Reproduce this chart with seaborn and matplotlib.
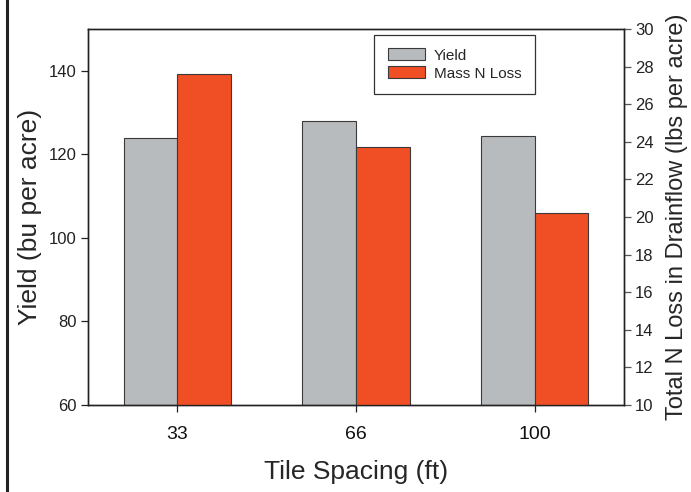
import numpy as np
import pandas as pd
import matplotlib
matplotlib.use("Agg")
import matplotlib.pyplot as plt
from matplotlib.lines import Line2D
import seaborn as sns

# values
spacing = ["33", "66", "100"]
yield_bu = [123.9, 128.0, 124.4]
n_loss = [27.6, 23.7, 20.2]
series = ["Yield", "Mass N Loss"]
colors = {"Yield": "#B8BBBD", "Mass N Loss": "#F04E25"}

sns.set_style("ticks")
plt.rcParams["font.family"] = ["Liberation Sans", "DejaVu Sans"]

# long tables, one per axis; the other series is NaN so dodge slots stay put
df_y = pd.DataFrame({
    "spacing": spacing * 2,
    "series": ["Yield"] * 3 + ["Mass N Loss"] * 3,
    "value": yield_bu + [np.nan] * 3,
})
df_n = pd.DataFrame({
    "spacing": spacing * 2,
    "series": ["Yield"] * 3 + ["Mass N Loss"] * 3,
    "value": [np.nan] * 3 + n_loss,
})

fig = plt.figure(figsize=(6.91, 4.92), dpi=100)
ax = fig.add_axes([0.1274, 0.1768, 0.7757, 0.7642])
ax2 = ax.twinx()

bar_kw = dict(x="spacing", y="value", hue="series", order=spacing,
              hue_order=series, palette=colors, width=0.6, dodge=True,
              saturation=1, edgecolor="#3a3a3a", linewidth=0.8,
              errorbar=None, legend=False)
sns.barplot(data=df_y, ax=ax, **bar_kw)
sns.barplot(data=df_n, ax=ax2, **bar_kw)

ax.set_xlim(-0.5, 2.5)
ax.set_ylim(60, 150)
ax.set_yticks([60, 80, 100, 120, 140])
ax2.set_ylim(10, 30)
ax2.set_yticks(np.arange(10, 31, 2))

ax.set_xlabel("Tile Spacing (ft)", fontsize=19, labelpad=12)
ax.set_ylabel("Yield (bu per acre)", fontsize=19, labelpad=5)
ax2.set_ylabel("Total N Loss in Drainflow (lbs per acre)", fontsize=17,
               labelpad=9)

ax.tick_params(axis="x", labelsize=14, length=5, width=0.9, pad=10,
               direction="out", color="#222222", labelcolor="#111111")
ax.tick_params(axis="y", labelsize=12, length=5, width=0.9, pad=3,
               direction="out", color="#222222", labelcolor="#222222")
ax2.tick_params(axis="y", labelsize=12, length=5, width=0.9, pad=3,
                direction="out", color="#555555", labelcolor="#222222")

for a in (ax, ax2):
    for sp in a.spines.values():
        sp.set_visible(True)
        sp.set_color("#222222")
        sp.set_linewidth(1.0)

handles = [plt.Rectangle((0, 0), 1, 1, facecolor=colors[s],
                         edgecolor="#3a3a3a", linewidth=0.8) for s in series]
leg = ax2.legend(handles, series, loc="upper left",
                 bbox_to_anchor=(0.534, 0.985), fontsize=11, frameon=True,
                 fancybox=False, edgecolor="#333333", framealpha=1,
                 handlelength=2.4, handleheight=0.8, borderpad=0.9,
                 labelspacing=0.25, handletextpad=0.6, borderaxespad=0)
leg.get_frame().set_linewidth(0.9)

# dark frame line down the left edge of the image
fig.add_artist(Line2D([0.0095, 0.0095], [0, 1], transform=fig.transFigure,
                      color="#222222", linewidth=2.2))

fig.savefig("out.png", dpi=100)
